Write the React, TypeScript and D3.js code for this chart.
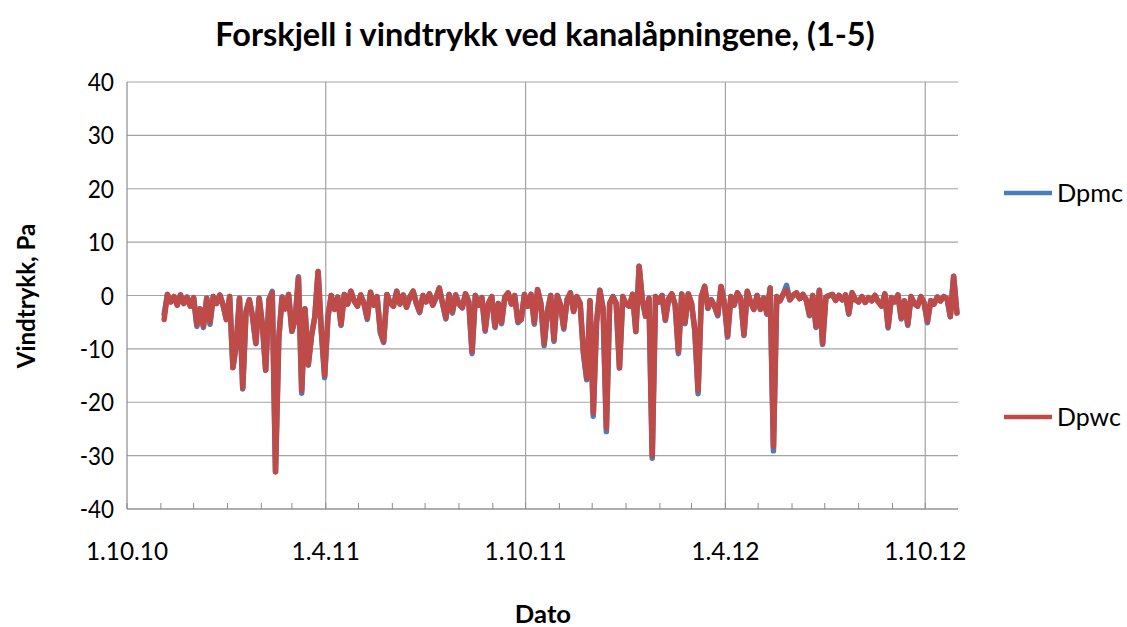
import React from "react";
import * as d3 from "d3";

// ---- data ----
const title = "Forskjell i vindtrykk ved kanalåpningene, (1-5)";
const yTitle = "Vindtrykk, Pa";
const xTitle = "Dato";
const seriesNames = ["Dpmc", "Dpwc"];
const yTicks = [-40, -30, -20, -10, 0, 10, 20, 30, 40];
const xMajorTicks = ["2010-10-01", "2011-04-01", "2011-10-01", "2012-04-01", "2012-10-01"];
const xDomain = ["2010-10-01", "2012-10-31"];
const firstDate = "2010-11-04";
const stepDays = 3;

// Dpwc (red) readings, every 3 days from 4.11.10
const dpwc = [
  -4.5, 0.2, -1.2, -0.2, -1.8, 0.1, -1.5, -0.3, -2.0, -0.4,
  -5.5, -2.5, -5.7, -0.5, -5.0, -0.2, -1.5, 0.1, -1.8, -4.5,
  -0.2, -13.5, -9.0, -0.5, -17.3, -3.0, -0.8, -4.0, -9.0, -0.5,
  -5.5, -14.0, -0.8, 0.5, -33.0, -8.0, -0.3, -2.5, 0.2, -6.7,
  -4.5, 3.3, -17.8, -2.5, -13.0, -7.5, -4.0, 4.5, -6.7, -15.0,
  -4.0, 0.0, -2.6, -0.3, -5.4, 0.2, -1.6, 0.8, -1.0, -2.0,
  0.1, -1.5, -4.2, 0.6, -1.8, -0.2, -6.7, -8.6, 0.2, -1.4,
  -2.0, 0.8, -1.6, 0.1, -2.2, -0.3, 0.8, -1.5, -3.0, 0.0,
  -1.2, 0.3, -1.8, -0.4, 1.4, -1.5, -4.2, 0.2, -3.0, 0.1,
  -1.6, -2.3, 0.3, -1.2, -10.5, 0.0, -1.8, -0.4, -6.4, -1.5,
  -0.2, -5.8, -1.5, -5.0, -0.3, 0.5, -1.6, 0.0, -4.8, -4.5,
  0.2, -2.0, 0.2, -5.0, 1.1, -1.5, -9.0, -3.0, 0.0, -8.3,
  0.0, -1.8, -6.0, -0.8, 0.5, -3.0, -0.2, -1.5, -10.8, -15.5,
  -1.0, -22.0, -5.0, 1.0, -2.5, -24.8, -1.5, -0.2, -1.5, -13.5,
  -0.2, -1.6, -2.0, 0.2, -6.7, 5.5, -1.0, -3.9, -0.5, -30.0,
  -0.2, -1.2, 0.0, -4.5, -0.6, 0.3, -1.8, -10.5, 0.3, -5.0,
  0.3, -1.5, -6.4, -17.8, -0.2, 1.7, -2.4, -0.8, -2.0, -3.6,
  1.7, -1.3, -7.6, -0.2, -1.8, 0.5, -0.6, -7.3, 0.8, -1.2,
  -2.6, 0.0, -2.6, -0.5, -3.3, 1.4, -28.3, -0.2, -1.0, 0.3,
  1.0, -0.8, 0.0, 0.5, -0.6, 0.2, -0.8, -3.6, 0.0, -5.8,
  1.0, -9.0, -0.3, 0.0, 0.2, -0.9, 0.0, -0.8, 0.1, -3.3,
  0.5, -0.8, -1.2, -0.2, -1.3, -0.4, -1.0, 0.0, -1.2, -2.0,
  0.3, -5.8, -0.4, -1.2, 0.1, -4.2, -1.0, -5.4, -0.2, -1.5,
  -2.0, -0.2, -1.4, -4.8, -1.0, -1.6, -0.3, -1.0, -0.2, -0.6,
  -3.9, 3.6, -3.3,
];

// Dpmc (blue) readings, same dates
const dpmc = [
  -3.5, 0.2, -1.2, -0.2, -1.8, 0.1, -1.5, -0.3, -2.0, -0.4,
  -5.8, -2.5, -6.0, -0.5, -5.4, -0.2, -1.5, 0.1, -1.8, -4.5,
  -0.2, -13.5, -9.5, -0.5, -17.5, -3.0, -0.8, -4.0, -9.0, -0.5,
  -5.5, -14.0, -0.8, 0.8, -33.0, -8.0, -0.3, -2.5, 0.2, -6.7,
  -4.5, 3.5, -18.3, -2.5, -13.0, -7.5, -4.0, 4.5, -6.7, -15.4,
  -4.0, 0.0, -2.6, -0.3, -5.6, 0.2, -1.6, 0.8, -1.0, -2.0,
  0.1, -1.5, -4.5, 0.6, -1.8, -0.2, -7.0, -8.8, 0.2, -1.4,
  -2.0, 0.8, -1.6, 0.1, -2.2, -0.3, 0.8, -1.5, -3.2, 0.0,
  -1.2, 0.3, -1.8, -0.4, 1.4, -1.5, -4.4, 0.2, -3.3, 0.1,
  -1.6, -2.3, 0.3, -1.2, -10.9, 0.0, -1.8, -0.4, -6.7, -1.5,
  -0.2, -6.0, -1.5, -5.3, -0.3, 0.5, -1.6, 0.0, -5.1, -4.5,
  0.2, -2.0, 0.2, -5.4, 1.1, -1.5, -9.4, -3.0, 0.0, -8.6,
  0.0, -1.8, -6.3, -0.8, 0.5, -3.0, -0.2, -1.5, -10.8, -15.8,
  -1.0, -22.6, -5.0, 1.0, -2.5, -25.5, -1.5, -0.2, -1.5, -13.6,
  -0.2, -1.6, -2.0, 0.2, -6.8, 5.5, -1.0, -3.9, -0.5, -30.5,
  -0.2, -1.2, 0.0, -4.7, -0.6, 0.3, -1.8, -10.9, 0.3, -5.3,
  0.3, -1.5, -6.7, -18.4, -0.2, 1.7, -2.4, -0.8, -2.0, -3.8,
  1.7, -1.3, -7.8, -0.2, -1.8, 0.5, -0.6, -7.5, 0.8, -1.2,
  -2.6, 0.0, -2.6, -0.5, -3.5, 1.4, -29.1, -0.2, -1.0, 0.3,
  1.9, -0.8, 0.0, 0.5, -0.6, 0.2, -0.8, -3.8, 0.0, -6.0,
  1.0, -9.2, -0.3, 0.0, 0.2, -0.9, 0.0, -0.8, 0.1, -3.5,
  0.5, -0.8, -1.2, -0.2, -1.3, -0.4, -1.0, 0.0, -1.2, -2.0,
  0.3, -6.1, -0.4, -1.2, 0.1, -4.4, -1.0, -5.6, -0.2, -1.5,
  -2.0, -0.2, -1.4, -5.1, -1.0, -1.6, -0.3, -1.0, -0.2, -0.6,
  -4.0, 3.6, -3.3,
];

// ---- styling helpers ----
const W = 1127;
const H = 627;
const M = { left: 127, right: 958, top: 82, bottom: 509 };
const COLORS = { Dpmc: "#4a7ebb", Dpwc: "#be4b48" };
const FONT = "Lato, 'Open Sans', 'Liberation Sans', sans-serif";

// approximate Calibri advance widths (em) so text widths match the original
const REG: Record<string, number> = { ".": 0.252, "-": 0.306, D: 0.615, p: 0.525, m: 0.799, c: 0.423, w: 0.715 };
const BOLD: Record<string, number> = {
  F: 0.459, o: 0.537, r: 0.355, s: 0.399, k: 0.48, j: 0.246, e: 0.503, l: 0.246, " ": 0.226, i: 0.246,
  v: 0.474, n: 0.537, d: 0.537, t: 0.347, y: 0.474, a: 0.494, "å": 0.494, p: 0.537, g: 0.471, ",": 0.258,
  "(": 0.312, ")": 0.312, "-": 0.306, V: 0.593, P: 0.532, D: 0.63,
};
function calibriWidth(s: string, size: number, bold = false) {
  const tbl = bold ? BOLD : REG;
  let w = 0;
  for (const ch of s) {
    if (/[0-9]/.test(ch)) w += 0.507;
    else w += tbl[ch] ?? 0.5;
  }
  return w * size;
}

export default function App() {
  const parse = d3.timeParse("%Y-%m-%d");
  const x = d3.scaleTime().domain(xDomain.map((d) => parse(d) as Date)).range([M.left, M.right]);
  const y = d3.scaleLinear().domain([-40, 40]).range([M.bottom, M.top]);
  const start = parse(firstDate) as Date;
  const dates = dpwc.map((_, i) => d3.timeDay.offset(start, i * stepDays));
  const fmt = d3.timeFormat("%-d.%-m.%y");
  const majors = xMajorTicks.map((d) => parse(d) as Date);
  const minors = d3.timeMonth.range(majors[0], d3.timeDay.offset(majors[majors.length - 1], 1));

  const line = d3
    .line<number>()
    .x((_, i) => x(dates[i]))
    .y((v) => y(v))
    .curve(d3.curveLinear);

  const series = [
    { name: "Dpmc", values: dpmc },
    { name: "Dpwc", values: dpwc },
  ];

  const gridColor = "#a3a3a3";
  const tickSize = 26;
  const legendY = [193, 417];

  return (
    <svg
      width={W}
      height={H}
      style={{ position: "absolute", left: 0, top: 0, background: "#fff" }}
      fontFamily={FONT}
    >
      <rect x={0} y={0} width={W} height={H} fill="#fff" />
      {/* title */}
      <text
        x={545}
        y={46}
        textAnchor="middle"
        fontWeight="bold"
        fontSize={33}
        textLength={calibriWidth(title, 34.5, true)}
        lengthAdjust="spacingAndGlyphs"
        fill="#000"
      >
        {title}
      </text>

      {/* horizontal gridlines */}
      {yTicks.map((t) => (
        <line key={"h" + t} x1={M.left} x2={M.right} y1={y(t)} y2={y(t)} stroke={gridColor} strokeWidth={1.2} />
      ))}
      {/* vertical gridlines */}
      {majors.slice(1).map((d, i) => (
        <line key={"v" + i} x1={x(d)} x2={x(d)} y1={M.top} y2={M.bottom} stroke={gridColor} strokeWidth={1.2} />
      ))}
      {/* axes */}
      <line x1={M.left} x2={M.left} y1={M.top} y2={M.bottom} stroke="#8c8c8c" strokeWidth={1.2} />
      <line x1={M.left} x2={M.right} y1={M.bottom} y2={M.bottom} stroke="#8c8c8c" strokeWidth={1.2} />
      {minors.map((d, i) => (
        <line key={"m" + i} x1={x(d)} x2={x(d)} y1={M.bottom} y2={M.bottom - 6} stroke="#8c8c8c" strokeWidth={1} />
      ))}

      {/* y tick labels */}
      {yTicks.map((t) => (
        <text
          key={"yl" + t}
          x={114}
          y={y(t) + 9}
          textAnchor="end"
          fontSize={25}
          textLength={calibriWidth(String(t), tickSize)}
          lengthAdjust="spacingAndGlyphs"
          fill="#000"
        >
          {String(t)}
        </text>
      ))}
      {/* x tick labels */}
      {majors.map((d, i) => (
        <text
          key={"xl" + i}
          x={x(d)}
          y={560}
          textAnchor="middle"
          fontSize={25}
          textLength={calibriWidth(fmt(d), 27)}
          lengthAdjust="spacingAndGlyphs"
          fill="#000"
        >
          {fmt(d)}
        </text>
      ))}

      {/* axis titles */}
      <text
        transform={`translate(35,296) rotate(-90)`}
        textAnchor="middle"
        fontWeight="bold"
        fontSize={25}
        textLength={calibriWidth(yTitle, 26, true)}
        lengthAdjust="spacingAndGlyphs"
        fill="#000"
      >
        {yTitle}
      </text>
      <text
        x={543}
        y={623}
        textAnchor="middle"
        fontWeight="bold"
        fontSize={25}
        textLength={calibriWidth(xTitle, 28, true)}
        lengthAdjust="spacingAndGlyphs"
        fill="#000"
      >
        {xTitle}
      </text>

      {/* series */}
      {series.map((s) => (
        <path
          key={s.name}
          d={line(s.values) || ""}
          fill="none"
          stroke={(COLORS as any)[s.name]}
          strokeWidth={5.5}
          strokeLinejoin="round"
          strokeLinecap="round"
        />
      ))}

      {/* legend */}
      {seriesNames.map((n, i) => (
        <g key={"lg" + n}>
          <line x1={1004} x2={1052} y1={legendY[i]} y2={legendY[i]} stroke={(COLORS as any)[n]} strokeWidth={4.5} />
          <text
            x={1057}
            y={legendY[i] + 9}
            fontSize={25}
            textLength={calibriWidth(n, 28)}
            lengthAdjust="spacingAndGlyphs"
            fill="#000"
          >
            {n}
          </text>
        </g>
      ))}
    </svg>
  );
}
